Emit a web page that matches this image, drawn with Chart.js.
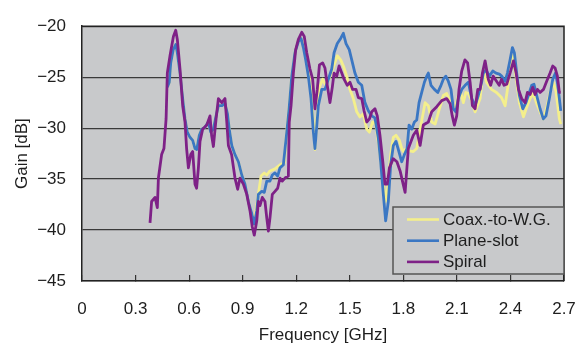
<!DOCTYPE html>
<html>
<head>
<meta charset="utf-8">
<script src="https://cdn.jsdelivr.net/npm/chart.js@4.4.1/dist/chart.umd.min.js"></script>
<style>
  html, body { margin: 0; padding: 0; background: #fff; }
  #wrap { width: 576px; height: 343px; }
</style>
</head>
<body>
<div id="wrap"><canvas id="gainChart" width="576" height="343"></canvas></div>
<script>
// series names (legend order)
const seriesNames = ["Coax.-to-W.G.", "Plane-slot", "Spiral"];

// Coax.-to-W.G.
const coaxFreq = [0.478,0.489,0.497,0.511,0.525,0.534,0.549,0.564,0.577,0.590,
  0.605,0.620,0.633,0.643,0.657,0.671,0.689,0.708,0.721,0.736,
  0.751,0.764,0.783,0.801,0.815,0.825,0.839,0.857,0.876,0.895,
  0.913,0.932,0.951,0.965,0.985,1.003,1.021,1.035,1.053,1.081,
  1.109,1.133,1.147,1.160,1.175,1.193,1.212,1.227,1.240,1.253,
  1.268,1.283,1.296,1.305,1.316,1.330,1.348,1.365,1.380,1.399,
  1.430,1.449,1.464,1.483,1.501,1.520,1.539,1.557,1.576,1.595,
  1.610,1.628,1.645,1.665,1.685,1.699,1.712,1.729,1.744,1.759,
  1.778,1.791,1.800,1.810,1.828,1.856,1.875,1.894,1.922,1.940,
  1.959,1.978,1.997,2.024,2.043,2.071,2.090,2.118,2.136,2.150,
  2.164,2.180,2.202,2.230,2.248,2.266,2.294,2.322,2.350,2.370,
  2.389,2.411,2.431,2.450,2.473,2.490,2.510,2.528,2.547,2.566,
  2.584,2.603,2.622,2.640,2.655,2.674,2.682];
const coaxGain = [-26.0,-25.5,-23.6,-22.3,-21.8,-22.6,-24.6,-27.1,-29.1,-30.4,
  -30.9,-31.2,-32.0,-32.1,-30.7,-30.1,-29.9,-29.4,-30.4,-30.1,
  -28.8,-27.8,-27.8,-27.6,-28.6,-30.1,-31.7,-32.6,-33.3,-34.6,
  -35.5,-37.2,-38.4,-39.2,-36.8,-34.7,-34.4,-34.6,-34.2,-34.0,
  -33.6,-33.4,-30.2,-28.0,-24.9,-22.6,-21.4,-21.2,-21.8,-22.8,
  -24.3,-26.3,-29.5,-32.1,-29.0,-26.0,-25.2,-25.8,-25.3,-24.5,
  -22.9,-23.3,-23.9,-24.9,-26.2,-27.1,-28.4,-28.9,-28.6,-30.1,
  -30.4,-29.4,-29.6,-32.0,-34.9,-37.2,-35.9,-32.6,-30.9,-30.7,
  -31.2,-32.0,-32.3,-32.1,-32.2,-32.3,-32.0,-30.1,-27.5,-27.8,
  -29.4,-29.6,-28.4,-26.8,-26.6,-27.8,-28.0,-26.2,-27.5,-26.5,
  -26.6,-27.2,-28.4,-27.1,-24.2,-25.5,-26.2,-26.5,-27.0,-27.8,
  -25.5,-22.9,-24.9,-27.5,-28.9,-28.0,-27.1,-26.6,-27.6,-28.4,
  -29.1,-28.0,-26.5,-25.5,-26.4,-29.1,-29.6];

// Plane-slot
const planeFreq = [0.478,0.489,0.497,0.511,0.525,0.534,0.549,0.564,0.577,0.590,
  0.605,0.620,0.633,0.643,0.657,0.671,0.689,0.708,0.721,0.736,
  0.751,0.764,0.783,0.801,0.815,0.825,0.839,0.857,0.876,0.895,
  0.913,0.932,0.951,0.965,0.979,0.988,1.007,1.021,1.035,1.053,
  1.066,1.081,1.096,1.109,1.128,1.147,1.160,1.175,1.193,1.212,
  1.227,1.240,1.253,1.268,1.283,1.296,1.305,1.311,1.324,1.343,
  1.361,1.380,1.399,1.412,1.430,1.449,1.464,1.479,1.497,1.511,
  1.529,1.548,1.567,1.585,1.604,1.623,1.641,1.660,1.673,1.688,
  1.701,1.716,1.729,1.744,1.759,1.772,1.791,1.806,1.821,1.832,
  1.847,1.862,1.875,1.888,1.903,1.918,1.931,1.940,1.955,1.974,
  1.993,2.011,2.024,2.038,2.052,2.067,2.080,2.094,2.108,2.127,
  2.146,2.164,2.183,2.202,2.220,2.239,2.248,2.263,2.282,2.301,
  2.319,2.338,2.351,2.370,2.383,2.398,2.411,2.422,2.435,2.450,
  2.469,2.487,2.506,2.519,2.532,2.547,2.566,2.584,2.599,2.618,
  2.637,2.652,2.663,2.674,2.682];
const planeGain = [-26.0,-25.5,-23.6,-22.3,-21.8,-22.6,-24.6,-27.1,-29.1,-30.4,
  -30.9,-31.2,-32.0,-32.1,-30.7,-30.1,-29.9,-29.4,-30.4,-30.1,
  -28.8,-27.8,-27.8,-27.6,-28.6,-30.1,-31.7,-32.6,-33.3,-34.6,
  -35.5,-37.2,-38.4,-39.4,-38.1,-36.5,-36.2,-36.3,-35.2,-35.2,
  -34.6,-34.4,-34.7,-33.9,-33.6,-30.4,-28.1,-24.9,-22.6,-21.5,
  -21.2,-22.1,-23.3,-24.9,-27.1,-30.4,-32.0,-30.7,-27.8,-26.2,
  -26.2,-25.2,-24.2,-22.6,-21.7,-21.2,-20.7,-21.7,-22.3,-23.3,
  -24.6,-25.5,-25.8,-27.5,-28.3,-28.8,-29.0,-31.0,-33.3,-36.5,
  -39.1,-37.2,-33.6,-31.7,-31.3,-32.1,-33.3,-32.6,-32.0,-29.7,
  -30.1,-29.4,-29.2,-27.5,-26.5,-25.5,-24.9,-24.6,-25.8,-26.2,
  -26.5,-25.8,-25.2,-24.9,-25.4,-26.2,-28.1,-28.4,-27.1,-26.2,
  -25.8,-25.5,-27.1,-27.8,-26.8,-25.5,-24.6,-24.3,-24.9,-24.4,
  -24.6,-24.7,-24.9,-25.4,-24.6,-23.3,-22.1,-22.6,-24.6,-26.8,
  -28.1,-27.5,-26.5,-25.8,-25.7,-26.8,-28.1,-29.1,-28.8,-27.1,
  -25.2,-24.6,-25.5,-27.1,-28.3];

// Spiral
const spiralFreq = [0.381,0.390,0.409,0.422,0.428,0.446,0.459,0.471,0.478,0.493,
  0.512,0.525,0.534,0.549,0.564,0.577,0.586,0.596,0.609,0.620,
  0.633,0.642,0.652,0.661,0.676,0.699,0.717,0.726,0.736,0.751,
  0.764,0.783,0.801,0.811,0.820,0.838,0.857,0.872,0.885,0.904,
  0.923,0.941,0.954,0.965,0.979,0.988,0.997,1.010,1.025,1.035,
  1.044,1.053,1.066,1.081,1.096,1.109,1.122,1.137,1.156,1.161,
  1.171,1.184,1.197,1.212,1.231,1.245,1.259,1.277,1.292,1.305,
  1.318,1.330,1.348,1.361,1.374,1.389,1.402,1.412,1.427,1.440,
  1.455,1.468,1.486,1.501,1.516,1.535,1.548,1.567,1.580,1.595,
  1.610,1.623,1.641,1.654,1.669,1.685,1.697,1.710,1.722,1.743,
  1.764,1.782,1.799,1.810,1.828,1.856,1.875,1.894,1.912,1.940,
  1.959,1.987,2.015,2.043,2.062,2.074,2.086,2.099,2.112,2.127,
  2.145,2.160,2.174,2.187,2.202,2.217,2.230,2.243,2.258,2.276,
  2.289,2.303,2.322,2.337,2.350,2.364,2.379,2.398,2.417,2.432,
  2.445,2.463,2.482,2.495,2.510,2.525,2.538,2.551,2.566,2.585,
  2.603,2.622,2.637,2.650,2.663,2.674,2.682];
const spiralGain = [-39.3,-37.2,-36.8,-37.8,-34.9,-32.6,-32.0,-29.1,-24.6,-22.9,
  -21.0,-20.4,-21.3,-24.2,-27.8,-29.4,-32.0,-33.9,-32.6,-32.3,
  -35.5,-35.9,-33.9,-31.3,-30.1,-29.7,-28.8,-30.7,-31.8,-29.1,
  -27.1,-27.5,-27.1,-29.4,-31.7,-32.6,-34.9,-36.0,-34.9,-35.5,
  -36.5,-38.1,-39.7,-40.5,-39.1,-37.2,-37.6,-36.8,-37.2,-38.8,
  -40.1,-38.8,-36.5,-36.2,-35.9,-34.9,-35.2,-34.9,-34.7,-29.4,
  -27.8,-24.6,-22.3,-21.3,-20.6,-21.0,-22.6,-24.2,-25.2,-28.1,
  -26.2,-23.8,-23.6,-24.1,-25.8,-27.5,-26.0,-24.6,-24.9,-23.9,
  -24.6,-25.2,-25.8,-25.5,-26.2,-26.2,-27.0,-27.1,-28.3,-29.4,
  -29.1,-28.4,-28.1,-28.8,-30.7,-33.3,-35.5,-35.5,-33.9,-33.0,
  -33.3,-34.2,-35.5,-36.3,-32.0,-30.7,-30.2,-31.7,-29.7,-29.4,
  -28.4,-27.9,-27.3,-27.1,-27.6,-28.8,-29.7,-28.8,-26.2,-24.4,
  -23.3,-23.6,-25.5,-27.8,-28.1,-26.2,-26.2,-24.6,-23.4,-25.2,
  -25.8,-24.9,-25.4,-25.8,-25.2,-25.8,-25.7,-24.6,-23.4,-24.6,
  -26.2,-27.1,-27.5,-26.5,-26.7,-26.0,-26.7,-26.2,-26.5,-26.2,
  -25.4,-24.6,-23.9,-24.1,-24.9,-26.5,-26.5];

// axis ranges / ticks
const xMin = 0, xMax = 2.7, xStep = 0.3;
const yMin = -45, yMax = -20, yStep = 5;

const plotBg = '#c8c9cb';
const fontFamily = "'Liberation Sans', Arial, sans-serif";
const textColor = '#1e1e1e';

function toPoints(xs, ys) {
    const n = Math.min(xs.length, ys.length);
    const pts = [];
    for (let i = 0; i < n; i++) pts.push({ x: xs[i], y: ys[i] });
    return pts;
}

// grey plot area and box border
const plotFrame = {
    id: 'plotFrame',
    beforeDraw(chart) {
        const { ctx, chartArea: a } = chart;
        ctx.save();
        ctx.fillStyle = plotBg;
        ctx.fillRect(a.left, a.top, a.right - a.left, a.bottom - a.top);
        ctx.restore();
    },
    beforeDatasetsDraw(chart) {
        const { ctx, chartArea: a } = chart;
        ctx.save();
        ctx.strokeStyle = '#222';
        ctx.lineWidth = 1.5;
        ctx.beginPath();
        ctx.moveTo(a.left, a.top);
        ctx.lineTo(a.right, a.top);
        ctx.lineTo(a.right, a.bottom);
        ctx.stroke();
        ctx.restore();
    }
};

// legend box in the lower right of the plot
const legendBox = {
    id: 'legendBox',
    afterDraw(chart) {
        const { ctx, chartArea: a } = chart;
        const w = 171, h = 67;
        const x = a.right - w, y = a.bottom - 7 - h;
        ctx.save();
        ctx.fillStyle = plotBg;
        ctx.fillRect(x, y, w, h);
        ctx.strokeStyle = '#555';
        ctx.lineWidth = 1.5;
        ctx.strokeRect(x, y, w, h);
        ctx.font = '17px ' + fontFamily;
        ctx.textBaseline = 'middle';
        ctx.fillStyle = textColor;
        chart.data.datasets.forEach((ds, i) => {
            const ly = y + 12.5 + i * 21.2;
            ctx.strokeStyle = ds.borderColor;
            ctx.lineWidth = 2.6;
            ctx.beginPath();
            ctx.moveTo(x + 14, ly);
            ctx.lineTo(x + 46, ly);
            ctx.stroke();
            ctx.fillText(ds.label, x + 50, ly + 0.5);
        });
        ctx.restore();
    }
};

const ctx = document.getElementById('gainChart');
new Chart(ctx, {
    type: 'line',
    data: {
        datasets: [
            {
                label: seriesNames[0],
                data: toPoints(coaxFreq, coaxGain),
                borderColor: '#f4ef8c',
                order: 2
            },
            {
                label: seriesNames[1],
                data: toPoints(planeFreq, planeGain),
                borderColor: '#3b77c3',
                order: 1
            },
            {
                label: seriesNames[2],
                data: toPoints(spiralFreq, spiralGain),
                borderColor: '#7e2187',
                order: 0
            }
        ]
    },
    options: {
        responsive: false,
        animation: false,
        events: [],
        layout: {
            padding: { left: 0, right: 12, top: 23, bottom: 0 }
        },
        elements: {
            point: { radius: 0 },
            line: { borderWidth: 2.8, tension: 0, borderJoinStyle: 'round' }
        },
        plugins: {
            legend: { display: false },
            tooltip: { enabled: false }
        },
        scales: {
            x: {
                type: 'linear',
                min: xMin,
                max: xMax,
                afterFit(scale) {
                    scale.height = 62;
                    scale.paddingLeft = 0;
                    scale.paddingRight = 0;
                },
                grid: {
                    drawOnChartArea: false,
                    drawTicks: true,
                    tickLength: -6,
                    tickColor: '#333',
                    lineWidth: 1.2
                },
                border: { display: true, color: '#222', width: 1.5 },
                ticks: {
                    stepSize: xStep,
                    padding: 24,
                    color: textColor,
                    font: { size: 17, family: fontFamily },
                    callback(value) {
                        return value === 0 ? '0' : value.toFixed(1);
                    }
                },
                title: {
                    display: true,
                    text: 'Frequency [GHz]',
                    color: textColor,
                    font: { size: 17, family: fontFamily, lineHeight: 0.88 },
                    padding: { top: 0, bottom: 0 }
                }
            },
            y: {
                min: yMin,
                max: yMax,
                afterFit(scale) { scale.width = 82; },
                grid: {
                    color: '#3a3a3a',
                    lineWidth: 1.2,
                    drawTicks: false
                },
                border: { display: true, color: '#222', width: 1.5 },
                ticks: {
                    stepSize: yStep,
                    padding: 16,
                    color: textColor,
                    font: { size: 17, family: fontFamily },
                    callback(value) {
                        return '\u2212' + Math.abs(value);
                    }
                },
                title: {
                    display: true,
                    text: 'Gain [dB]',
                    color: textColor,
                    font: { size: 17, family: fontFamily },
                    padding: { top: 12, bottom: 0 }
                }
            }
        }
    },
    plugins: [plotFrame, legendBox]
});
</script>
</body>
</html>
